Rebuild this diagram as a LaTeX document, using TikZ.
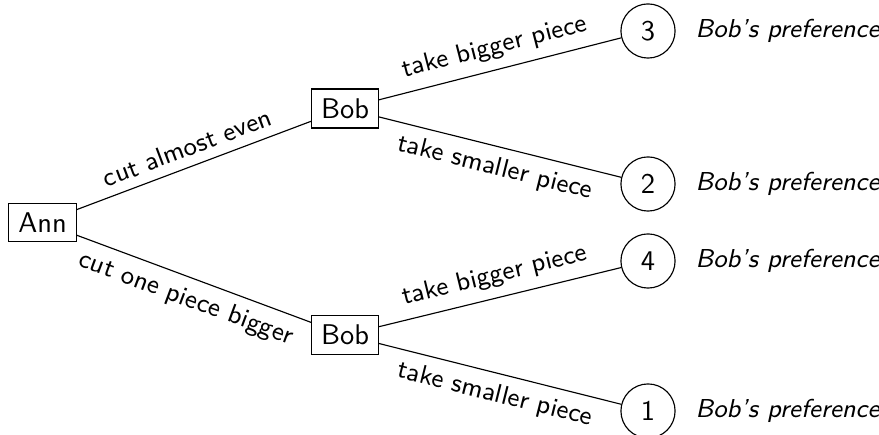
\documentclass[tikz,border=0pt]{standalone}
\begin{document}
\begin{tikzpicture}[x=0.3509pt, y=-0.3509pt, font=\sffamily,
  player/.style={draw, rectangle, inner sep=3.33pt},
  payoff/.style={draw, circle, minimum size=19pt, inner sep=0pt},
  pref/.style={anchor=west, inner sep=0pt, font=\sffamily\itshape\fontsize{9.1pt}{11pt}\selectfont},
  move/.style={sloped, midway, font=\sffamily\fontsize{9.2pt}{11pt}\selectfont}]
\useasboundingbox (0,0) rectangle (879,435);

% decision nodes
\node[player] (ann)  at (42.5,222.5) {Ann};
\node[player] (bob1) at (345,108.5) {Bob};
\node[player] (bob2) at (345,335) {Bob};

% outcomes, ranked by Bob
\node[payoff] (o3) at (648,31)  {3};
\node[payoff] (o2) at (648,184) {2};
\node[payoff] (o4) at (648,261) {4};
\node[payoff] (o1) at (648,411) {1};

\node[pref] (p3) at (695,31)  {Bob's preference};
\node[pref] (p2) at (695,184) {Bob's preference};
\node[pref] (p4) at (695,261) {Bob's preference};
\node[pref] (p1) at (695,411) {Bob's preference};

% moves
\draw (ann) -- node[move, above] {cut almost even} (bob1);
\draw (ann) -- node[move, below] {cut one piece bigger} (bob2);
\draw (bob1) -- node[move, above] {take bigger piece} (o3);
\draw (bob1) -- node[move, below] {take smaller piece} (o2);
\draw (bob2) -- node[move, above] {take bigger piece} (o4);
\draw (bob2) -- node[move, below] {take smaller piece} (o1);
\end{tikzpicture}
\end{document}
